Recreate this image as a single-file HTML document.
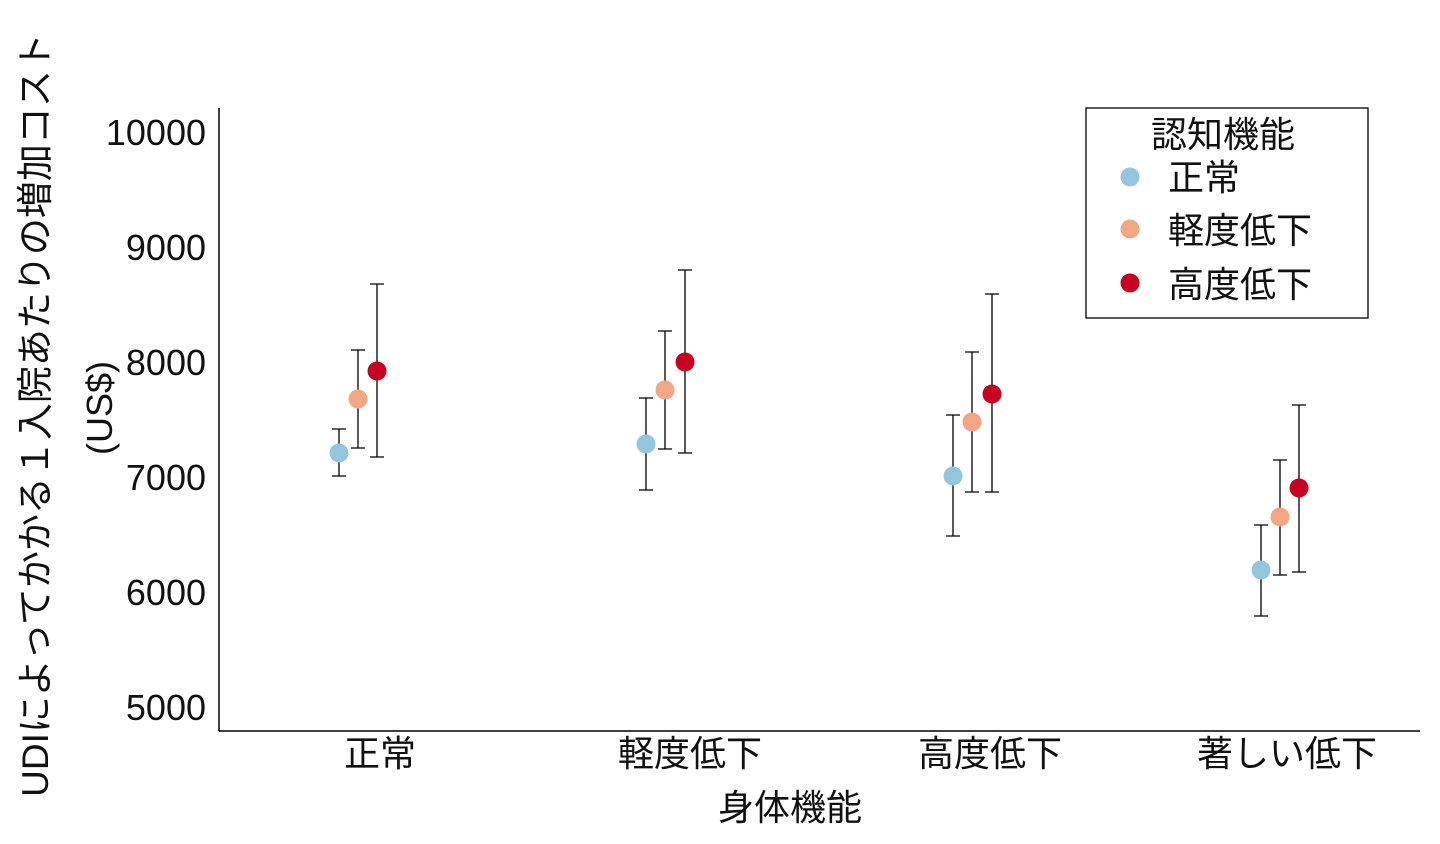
<!DOCTYPE html>
<html><head><meta charset="utf-8"><style>
body{margin:0;background:#fff}
svg text{font-family:"Liberation Sans","Noto Sans CJK JP",sans-serif;fill:#111}
</style></head><body>
<svg width="1440" height="839" viewBox="0 0 1440 839">
<g stroke="#000" stroke-width="1.5" fill="none">
<line x1="219" y1="108" x2="219" y2="731"/>
<line x1="219" y1="731" x2="1420" y2="731"/>
</g>
<g font-size="36" text-anchor="end">
<text x="206" y="145">10000</text>
<text x="206" y="260">9000</text>
<text x="206" y="375">8000</text>
<text x="206" y="490">7000</text>
<text x="206" y="605">6000</text>
<text x="206" y="720">5000</text>
</g>
<g font-size="36" text-anchor="middle">
<text x="380" y="766">正常</text>
<text x="690" y="766">軽度低下</text>
<text x="990" y="766">高度低下</text>
<text x="1287" y="766">著しい低下</text>
<text x="790" y="820">身体機能</text>
<text transform="translate(48,415) rotate(-90)" font-size="37">UDIによってかかる１入院あたりの増加コスト</text>
<text transform="translate(112,408) rotate(-90)">(US$)</text>
</g>
<g stroke="#000" stroke-width="1.3">
<path d="M339 429V476M332 429H346M332 476H346"/>
<path d="M358 350V448M351 350H365M351 448H365"/>
<path d="M377 284V457M370 284H384M370 457H384"/>
<path d="M646 398V490M639 398H653M639 490H653"/>
<path d="M665 331V449M658 331H672M658 449H672"/>
<path d="M685 270V453M678 270H692M678 453H692"/>
<path d="M953 415V536M946 415H960M946 536H960"/>
<path d="M972 352V492M965 352H979M965 492H979"/>
<path d="M992 294V492M985 294H999M985 492H999"/>
<path d="M1261 525V616M1254 525H1268M1254 616H1268"/>
<path d="M1280 460V575M1273 460H1287M1273 575H1287"/>
<path d="M1299 405V572M1292 405H1306M1292 572H1306"/>
</g>
<g>
<circle cx="339" cy="453" r="9.5" fill="#92c5de"/>
<circle cx="358" cy="399" r="9.5" fill="#f4a582"/>
<circle cx="377" cy="371" r="9.5" fill="#ca0020"/>
<circle cx="646" cy="444" r="9.5" fill="#92c5de"/>
<circle cx="665" cy="390" r="9.5" fill="#f4a582"/>
<circle cx="685" cy="362" r="9.5" fill="#ca0020"/>
<circle cx="953" cy="476" r="9.5" fill="#92c5de"/>
<circle cx="972" cy="422" r="9.5" fill="#f4a582"/>
<circle cx="992" cy="394" r="9.5" fill="#ca0020"/>
<circle cx="1261" cy="570" r="9.5" fill="#92c5de"/>
<circle cx="1280" cy="517" r="9.5" fill="#f4a582"/>
<circle cx="1299" cy="488" r="9.5" fill="#ca0020"/>
</g>
<rect x="1086" y="108" width="282" height="210" fill="#fff" stroke="#000" stroke-width="1.3"/>
<text x="1223" y="147" font-size="36" text-anchor="middle">認知機能</text>
<circle cx="1130" cy="177" r="9.5" fill="#92c5de"/>
<circle cx="1130" cy="229" r="9.5" fill="#f4a582"/>
<circle cx="1130" cy="283" r="9.5" fill="#ca0020"/>
<g font-size="36">
<text x="1168" y="190">正常</text>
<text x="1168" y="243">軽度低下</text>
<text x="1168" y="297">高度低下</text>
</g>
</svg>
</body></html>
